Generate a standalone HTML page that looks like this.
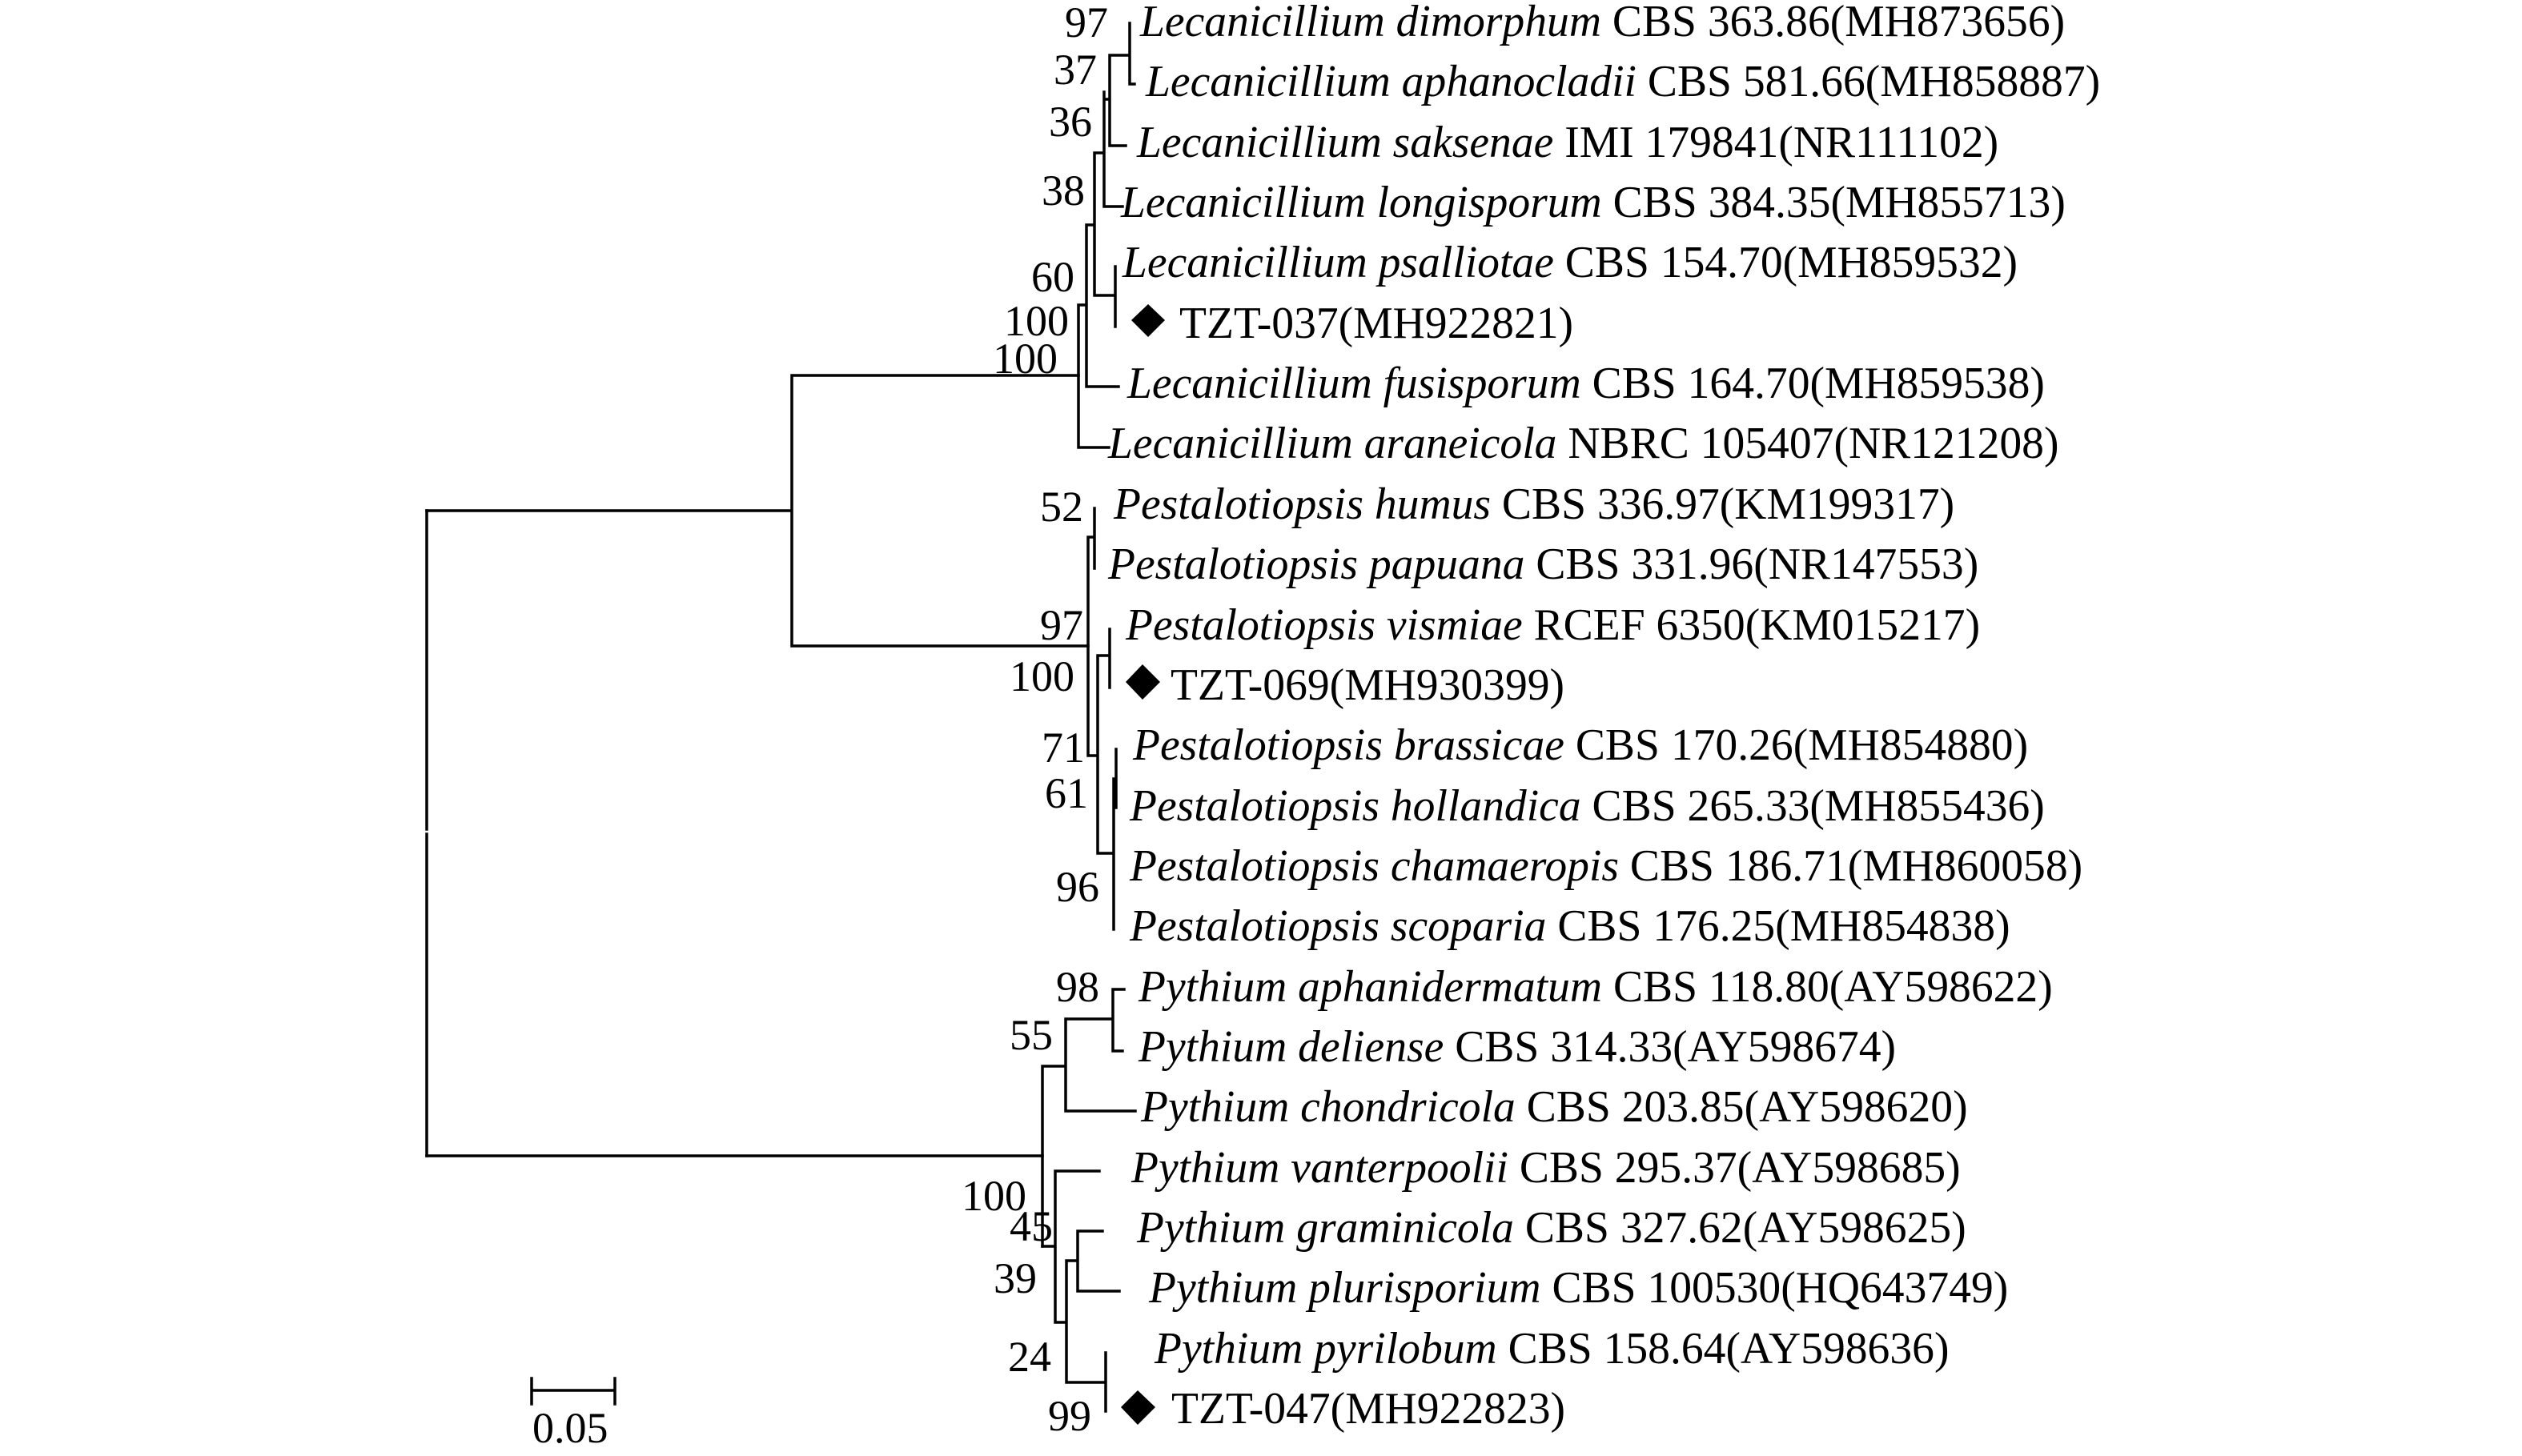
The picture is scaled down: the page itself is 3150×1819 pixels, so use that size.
<!DOCTYPE html>
<html><head><meta charset="utf-8"><style>
html,body{margin:0;padding:0;background:#fff;}
svg{display:block;}
.t{font-family:"Liberation Serif",serif;font-size:55.6px;fill:#000;}
.b{font-family:"Liberation Serif",serif;font-size:54px;fill:#000;text-anchor:end;}
.i{font-style:italic;}
</style></head><body>
<svg width="3150" height="1819" viewBox="0 0 3150 1819" xmlns="http://www.w3.org/2000/svg">
<g stroke="#000" stroke-width="3.5" fill="none" stroke-linecap="square">
<path d="M533 638 V1036 M533 1042 V1444"/>
<path d="M533 638 H989 M989 469 V807 M989 469 H1347 M989 807 H1359"/>
<path d="M533 1444 H1302"/>
<path d="M1347 381 V559 H1385 M1347 381 H1357 M1357 281 V483 H1397 M1357 281 H1367 M1367 191 V369 H1393 M1393 333 V408 M1367 191 H1379 M1379 115 V258 H1402 M1379 124 H1386 M1386 69 V182 H1406 M1386 69 H1411 M1411 29 V105 H1417"/>
<path d="M1359 671 V944 M1359 671 H1367 M1367 635 V710 M1359 944 H1371 M1371 819 V1066 M1371 819 H1386 M1386 786 V859 M1371 1066 H1391 M1391 973 V1161 M1391 973 H1394 M1394 936 V1009"/>
<path d="M1302 1332 V1557 M1302 1332 H1331 M1331 1273 V1388 H1418 M1331 1273 H1390 M1390 1236 V1313 H1402 M1390 1236 H1404"/>
<path d="M1302 1557 H1318 M1318 1463 V1652 M1318 1463 H1373 M1318 1652 H1332 M1332 1575 V1727 M1332 1575 H1346 M1346 1538 V1613 M1346 1538 H1377 M1346 1613 H1398 M1332 1727 H1381 M1381 1690 V1763"/>
<path d="M664 1737 H768 M664 1722 V1754 M768 1722 V1754"/>
</g>
<g fill="#000">
<polygon points="1434,380 1455,400 1434,421 1413,400"/>
<polygon points="1427,830 1449,852 1427,874 1406,852"/>
<polygon points="1421,1737 1443,1758 1421,1780 1400,1758"/>
</g>
<text class="b" x="1384" y="46">97</text>
<text class="b" x="1370" y="105">37</text>
<text class="b" x="1364" y="170">36</text>
<text class="b" x="1355" y="256">38</text>
<text class="b" x="1342" y="364">60</text>
<text class="b" x="1335" y="419">100</text>
<text class="b" x="1321" y="466">100</text>
<text class="b" x="1353" y="651">52</text>
<text class="b" x="1353" y="799">97</text>
<text class="b" x="1342" y="863">100</text>
<text class="b" x="1355" y="952">71</text>
<text class="b" x="1359" y="1009">61</text>
<text class="b" x="1373" y="1126">96</text>
<text class="b" x="1373" y="1251">98</text>
<text class="b" x="1315" y="1311">55</text>
<text class="b" x="1282" y="1512">100</text>
<text class="b" x="1315" y="1550">45</text>
<text class="b" x="1295" y="1615">39</text>
<text class="b" x="1313" y="1713">24</text>
<text class="b" x="1363" y="1787">99</text>
<text class="b" x="665" y="1802" style="text-anchor:start">0.05</text>

<text class="t" x="1424" y="45"><tspan class="i">Lecanicillium dimorphum</tspan> CBS 363.86(MH873656)</text>
<text class="t" x="1431" y="120"><tspan class="i">Lecanicillium aphanocladii</tspan> CBS 581.66(MH858887)</text>
<text class="t" x="1420" y="196"><tspan class="i">Lecanicillium saksenae</tspan> IMI 179841(NR111102)</text>
<text class="t" x="1400" y="271"><tspan class="i">Lecanicillium longisporum</tspan> CBS 384.35(MH855713)</text>
<text class="t" x="1402" y="346"><tspan class="i">Lecanicillium psalliotae</tspan> CBS 154.70(MH859532)</text>
<text class="t" x="1473" y="422">TZT-037(MH922821)</text>
<text class="t" x="1408" y="497"><tspan class="i">Lecanicillium fusisporum</tspan> CBS 164.70(MH859538)</text>
<text class="t" x="1384" y="572"><tspan class="i">Lecanicillium araneicola</tspan> NBRC 105407(NR121208)</text>
<text class="t" x="1391" y="648"><tspan class="i">Pestalotiopsis humus</tspan> CBS 336.97(KM199317)</text>
<text class="t" x="1384" y="723"><tspan class="i">Pestalotiopsis papuana</tspan> CBS 331.96(NR147553)</text>
<text class="t" x="1406" y="799"><tspan class="i">Pestalotiopsis vismiae</tspan> RCEF 6350(KM015217)</text>
<text class="t" x="1462" y="874">TZT-069(MH930399)</text>
<text class="t" x="1415" y="949"><tspan class="i">Pestalotiopsis brassicae</tspan> CBS 170.26(MH854880)</text>
<text class="t" x="1411" y="1025"><tspan class="i">Pestalotiopsis hollandica</tspan> CBS 265.33(MH855436)</text>
<text class="t" x="1411" y="1100"><tspan class="i">Pestalotiopsis chamaeropis</tspan> CBS 186.71(MH860058)</text>
<text class="t" x="1411" y="1175"><tspan class="i">Pestalotiopsis scoparia</tspan> CBS 176.25(MH854838)</text>
<text class="t" x="1422" y="1251"><tspan class="i">Pythium aphanidermatum</tspan> CBS 118.80(AY598622)</text>
<text class="t" x="1422" y="1326"><tspan class="i">Pythium deliense</tspan> CBS 314.33(AY598674)</text>
<text class="t" x="1425" y="1401"><tspan class="i">Pythium chondricola</tspan> CBS 203.85(AY598620)</text>
<text class="t" x="1413" y="1477"><tspan class="i">Pythium vanterpoolii</tspan> CBS 295.37(AY598685)</text>
<text class="t" x="1420" y="1552"><tspan class="i">Pythium graminicola</tspan> CBS 327.62(AY598625)</text>
<text class="t" x="1435" y="1627"><tspan class="i">Pythium plurisporium</tspan> CBS 100530(HQ643749)</text>
<text class="t" x="1442" y="1703"><tspan class="i">Pythium pyrilobum</tspan> CBS 158.64(AY598636)</text>
<text class="t" x="1463" y="1778">TZT-047(MH922823)</text>
</svg>
</body></html>
